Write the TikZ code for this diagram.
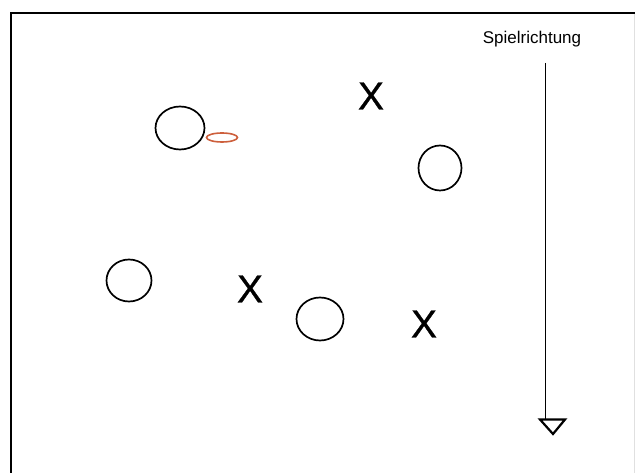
\documentclass[tikz,border=0pt]{standalone}
\usepackage{fontspec}
\setmainfont{Liberation Sans}
\newfontfamily\xfont[FakeBold=0.8]{Liberation Sans}
\usetikzlibrary{shapes.geometric}
\definecolor{ringorange}{RGB}{205,95,60}
\tikzset{
  player/.style={draw=black, line width=1.7pt, ellipse, inner sep=0pt},
  opp/.style={inner sep=0pt, font=\xfont\fontsize{39}{39}\selectfont},
  ring/.style={draw=ringorange, line width=1.6pt, ellipse, inner sep=0pt, minimum width=31pt, minimum height=9pt},
  frame/.style={line width=2pt, black},
}
\begin{document}
\begin{tikzpicture}[x=1pt,y=-1pt]
\useasboundingbox (0,0) rectangle (635,473);
\fill[white] (0,0) rectangle (635,473);
% frame
\coordinate (fl) at (10.5,473);
\coordinate (ftl) at (10.5,13.5);
\coordinate (ftr) at (635,13.5);
\draw[frame] (fl) -- (ftl) -- (ftr);
\coordinate (frt) at (634,14);
\coordinate (frb) at (634,473);
\draw[black!12, line width=0.8pt] (frt) -- (frb);
% players
\node[player, minimum width=49pt, minimum height=43pt] (c1) at (180,128) {};
\node[ring] (ball) at (222,137.5) {};
\node[player, minimum width=43pt, minimum height=45pt] (c2) at (440,168) {};
\node[player, minimum width=45pt, minimum height=42pt] (c3) at (129,280.5) {};
\node[player, minimum width=47pt, minimum height=43pt] (c4) at (320,319) {};
% opponents
\node[opp] (x1) at (371,96) {X};
\node[opp] (x2) at (250,289) {X};
\node[opp] (x3) at (424,324) {X};
% direction
\node[anchor=base, font=\fontsize{17}{17}\selectfont, inner sep=0pt] (lbl) at (532,44) {Spielrichtung};
\coordinate (atop) at (545.5,63);
\coordinate (abot) at (545.5,420);
\draw[line width=1.2pt] (atop) -- (abot);
\coordinate (t1) at (540,419.5);
\coordinate (t2) at (565,419.5);
\coordinate (t3) at (553,434);
\draw[line width=2.2pt, line join=miter] (t1) -- (t2) -- (t3) -- cycle;
\end{tikzpicture}
\end{document}
